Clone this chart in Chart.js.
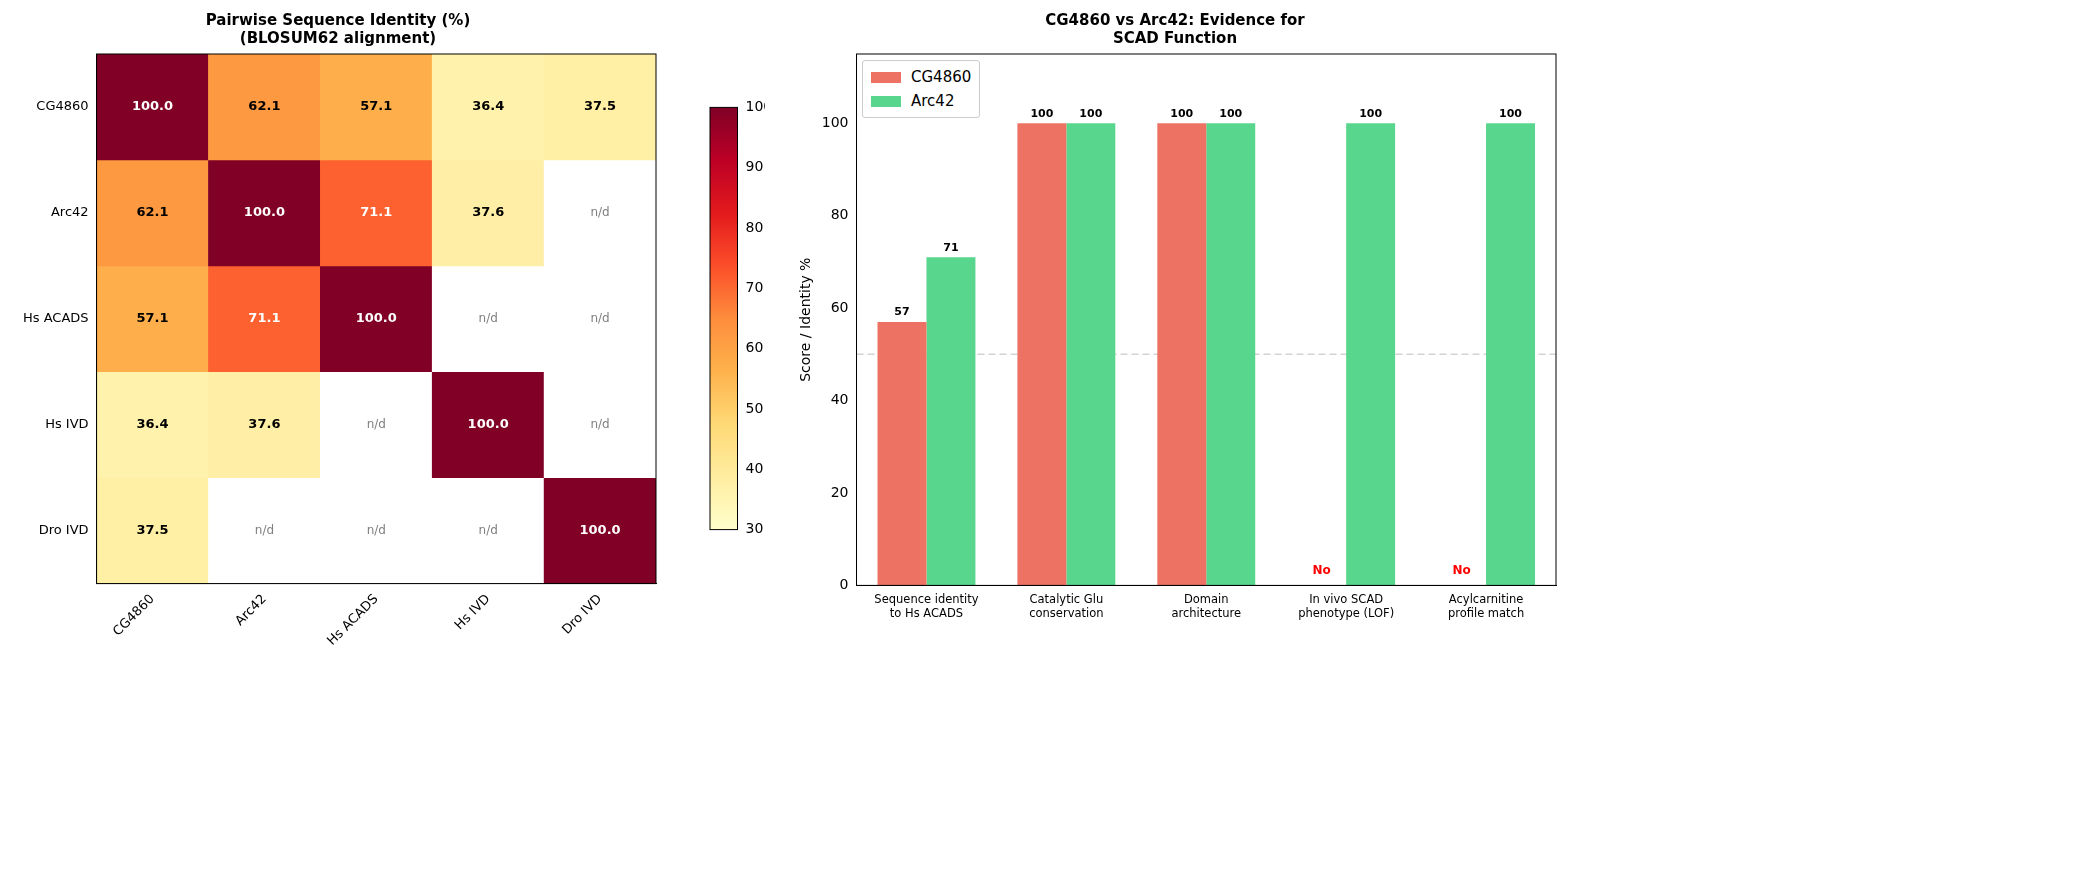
<!DOCTYPE html>
<html>
<head>
<meta charset="utf-8">
<script src="https://cdn.jsdelivr.net/npm/chart.js@4"></script>
<style>
  body { margin: 0; background: #fff; font-family: "DejaVu Sans", sans-serif; }
  .box { position: absolute; }
  #legend { position: absolute; left: 862px; top: 60px; border: 1px solid #ccc; border-radius: 3px;
    background: #fff; padding: 4px 8px; font-size: 15px; line-height: 24px; }
  #legend span.sw { display: inline-block; width: 30px; height: 11px; margin-right: 10px; vertical-align: -1px; }
</style>
</head>
<body>
<div class="box" style="left:0;top:0;width:675px;height:885px"><canvas id="heat"></canvas></div>
<div class="box" style="left:675px;top:96px;width:90px;height:445px"><canvas id="cbar"></canvas></div>
<div class="box" style="left:770px;top:0;width:800px;height:885px"><canvas id="bars"></canvas></div>
<div id="legend">
  <div><span class="sw" style="background:#ed7264"></span>CG4860</div>
  <div><span class="sw" style="background:#58d68d"></span>Arc42</div>
</div>
<script>
  // Heatmap data
  const proteins = ['CG4860', 'Arc42', 'Hs ACADS', 'Hs IVD', 'Dro IVD'];
  const row0 = [100.0, 62.1, 57.1, 36.4, 37.5];
  const row1 = [62.1, 100.0, 71.1, 37.6, null];
  const row2 = [57.1, 71.1, 100.0, null, null];
  const row3 = [36.4, 37.6, null, 100.0, null];
  const row4 = [37.5, null, null, null, 100.0];
  const identityRows = [row0, row1, row2, row3, row4];
  const cbarTicks = [30, 40, 50, 60, 70, 80, 90, 100];

  // Bar chart data
  const evidenceLabels = [
    ['Sequence identity', 'to Hs ACADS'],
    ['Catalytic Glu', 'conservation'],
    ['Domain', 'architecture'],
    ['In vivo SCAD', 'phenotype (LOF)'],
    ['Acylcarnitine', 'profile match']
  ];
  const cg4860Scores = [57, 100, 100, 0, 0];
  const arc42Scores = [71, 100, 100, 100, 100];

  const VMIN = 30, VMAX = 100;
  const ylorrd = ['#ffffcc', '#ffeda0', '#fed976', '#feb24c', '#fd8d3c', '#fc4e2a', '#e31a1c', '#bd0026', '#800026'];

  function hexToRgb(h) {
    return [parseInt(h.substr(1, 2), 16), parseInt(h.substr(3, 2), 16), parseInt(h.substr(5, 2), 16)];
  }
  function cmap(v) {
    let t = Math.max(0, Math.min(1, (v - VMIN) / (VMAX - VMIN))) * (ylorrd.length - 1);
    const i = Math.min(Math.floor(t), ylorrd.length - 2);
    const f = t - i;
    const a = hexToRgb(ylorrd[i]), b = hexToRgb(ylorrd[i + 1]);
    return 'rgb(' + a.map((c, k) => Math.round(c + (b[k] - c) * f)).join(',') + ')';
  }

  Chart.defaults.font.family = '"DejaVu Sans", sans-serif';
  Chart.defaults.color = '#000';
  Chart.defaults.animation = false;

  // draw a full box around the plot area
  const framePlugin = {
    id: 'frame',
    afterDraw(chart) {
      const a = chart.chartArea, ctx = chart.ctx;
      ctx.save();
      ctx.strokeStyle = '#000';
      ctx.lineWidth = 1;
      ctx.strokeRect(a.left, a.top, a.right - a.left, a.bottom - a.top);
      ctx.restore();
    }
  };

  // Heatmap: each row is a dataset of floating bars spanning one cell
  const heatDatasets = identityRows.map((row, r) => ({
    data: row.map(() => [r - 0.5, r + 0.5]),
    backgroundColor: row.map(v => v === null ? '#ffffff' : cmap(v)),
    borderWidth: 0,
    barPercentage: 1,
    categoryPercentage: 1,
    grouped: false
  }));

  const heatTextPlugin = {
    id: 'heatText',
    afterDatasetsDraw(chart) {
      const ctx = chart.ctx;
      ctx.save();
      ctx.textAlign = 'center';
      ctx.textBaseline = 'middle';
      identityRows.forEach((row, r) => {
        const meta = chart.getDatasetMeta(r);
        row.forEach((v, c) => {
          const el = meta.data[c];
          const x = el.x, y = (el.y + el.base) / 2;
          if (v === null) {
            ctx.font = '12px "DejaVu Sans"';
            ctx.fillStyle = 'gray';
            ctx.fillText('n/d', x, y);
          } else {
            ctx.font = 'bold 13px "DejaVu Sans"';
            ctx.fillStyle = v > 70 ? '#fff' : '#000';
            ctx.fillText(v.toFixed(1), x, y);
          }
        });
      });
      ctx.restore();
    }
  };

  new Chart(document.getElementById('heat'), {
    type: 'bar',
    data: { labels: proteins, datasets: heatDatasets },
    options: {
      responsive: true,
      maintainAspectRatio: false,
      layout: { padding: { top: 4, right: 19, bottom: 233, left: 20 } },
      plugins: {
        legend: { display: false },
        tooltip: { enabled: false },
        title: {
          display: true,
          text: ['Pairwise Sequence Identity (%)', '(BLOSUM62 alignment)'],
          font: { size: 15, weight: 'bold' },
          padding: { top: 8, bottom: 6 },
          color: '#000'
        }
      },
      scales: {
        x: {
          grid: { display: false, drawTicks: true, tickLength: 5, tickColor: '#000' },
          border: { color: '#000' },
          ticks: { maxRotation: 45, minRotation: 45, font: { size: 13 }, color: '#000' }
        },
        y: {
          min: -0.5, max: 4.5, reverse: true,
          afterBuildTicks(axis) { axis.ticks = proteins.map((p, i) => ({ value: i })); },
          grid: { display: false, tickLength: 5, tickColor: '#000' },
          border: { color: '#000' },
          ticks: { callback: v => proteins[v], font: { size: 13 }, color: '#000' }
        }
      }
    },
    plugins: [heatTextPlugin, framePlugin]
  });

  // Colorbar
  new Chart(document.getElementById('cbar'), {
    type: 'bar',
    data: {
      labels: [''],
      datasets: [{
        data: [[VMIN, VMAX]],
        barPercentage: 1,
        categoryPercentage: 1,
        borderWidth: 0,
        backgroundColor(ctx) {
          const a = ctx.chart.chartArea;
          if (!a) return '#fff';
          const g = ctx.chart.ctx.createLinearGradient(0, a.bottom, 0, a.top);
          ylorrd.forEach((c, i) => g.addColorStop(i / (ylorrd.length - 1), c));
          return g;
        }
      }]
    },
    options: {
      responsive: true,
      maintainAspectRatio: false,
      layout: { padding: { top: 10, bottom: 10, left: 35, right: 0 } },
      plugins: { legend: { display: false }, tooltip: { enabled: false } },
      scales: {
        x: { display: false },
        y: {
          position: 'right', min: VMIN, max: VMAX,
          afterBuildTicks(axis) { axis.ticks = cbarTicks.map(v => ({ value: v })); },
          grid: { display: false, tickLength: 5, tickColor: '#000' },
          border: { color: '#000' },
          ticks: { font: { size: 14 }, color: '#000' }
        }
      }
    },
    plugins: [framePlugin]
  });

  // Bar value labels and reference line
  const barTextPlugin = {
    id: 'barText',
    beforeDatasetsDraw(chart) {
      const ctx = chart.ctx, a = chart.chartArea, y = chart.scales.y.getPixelForValue(50);
      ctx.save();
      ctx.strokeStyle = 'rgba(128,128,128,0.35)';
      ctx.lineWidth = 1.5;
      ctx.setLineDash([7, 4]);
      ctx.beginPath(); ctx.moveTo(a.left, y); ctx.lineTo(a.right, y); ctx.stroke();
      ctx.restore();
    },
    afterDatasetsDraw(chart) {
      const ctx = chart.ctx;
      ctx.save();
      ctx.textAlign = 'center';
      ctx.textBaseline = 'bottom';
      chart.data.datasets.forEach((ds, d) => {
        chart.getDatasetMeta(d).data.forEach((el, i) => {
          const v = ds.data[i];
          if (v > 0) {
            ctx.font = 'bold 11px "DejaVu Sans"';
            ctx.fillStyle = '#000';
            ctx.fillText(String(v), el.x, el.y - 4);
          } else {
            ctx.font = 'bold 12px "DejaVu Sans"';
            ctx.fillStyle = 'red';
            ctx.fillText('No', el.x, el.y - 9);
          }
        });
      });
      ctx.restore();
    }
  };

  new Chart(document.getElementById('bars'), {
    type: 'bar',
    data: {
      labels: evidenceLabels,
      datasets: [
        { label: 'CG4860', data: cg4860Scores, backgroundColor: '#ed7264' },
        { label: 'Arc42', data: arc42Scores, backgroundColor: '#58d68d' }
      ]
    },
    options: {
      responsive: true,
      maintainAspectRatio: false,
      datasets: { bar: { barPercentage: 1, categoryPercentage: 0.7 } },
      layout: { padding: { top: 4, right: 14, bottom: 261, left: 24 } },
      plugins: {
        legend: { display: false },
        tooltip: { enabled: false },
        title: {
          display: true,
          text: ['CG4860 vs Arc42: Evidence for', 'SCAD Function'],
          font: { size: 15, weight: 'bold' },
          padding: { top: 8, bottom: 6 },
          color: '#000'
        }
      },
      scales: {
        x: {
          grid: { display: false, tickLength: 5, tickColor: '#000' },
          border: { color: '#000' },
          ticks: { font: { size: 11.5 }, color: '#000', maxRotation: 0 }
        },
        y: {
          min: 0, max: 115,
          afterBuildTicks(axis) { axis.ticks = [0, 20, 40, 60, 80, 100].map(v => ({ value: v })); },
          grid: { display: false, tickLength: 5, tickColor: '#000' },
          border: { color: '#000' },
          ticks: { font: { size: 14 }, color: '#000' },
          title: { display: true, text: 'Score / Identity %', font: { size: 14 }, color: '#000' }
        }
      }
    },
    plugins: [barTextPlugin, framePlugin]
  });
</script>
</body>
</html>
